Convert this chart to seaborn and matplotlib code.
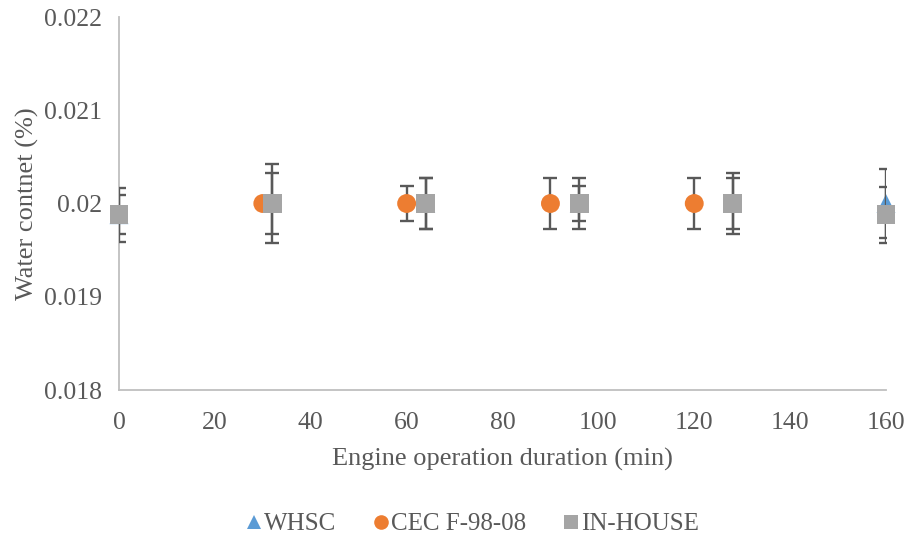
import matplotlib
matplotlib.use("Agg")
import matplotlib.pyplot as plt
import seaborn as sns
import pandas as pd
from matplotlib.lines import Line2D

# Measurements per test procedure
whsc_x = [0, 32, 64, 96, 128, 160]
whsc_y = [0.01988, 0.02, 0.02, 0.02, 0.02, 0.02]
whsc_err = [0.00021, 0.00033, 0.00027, 0.00019, 0.00027, 0.00037]

cec_x = [30, 60, 90, 120]
cec_y = [0.02, 0.02, 0.02, 0.02]
cec_err = [0.0, 0.00019, 0.00027, 0.00027]

inhouse_x = [0, 32, 64, 96, 128, 160]
inhouse_y = [0.01988, 0.02, 0.02, 0.02, 0.02, 0.01988]
inhouse_err = [0.00029, 0.00042, 0.00027, 0.00027, 0.00033, 0.00030]

series_names = ["WHSC", "CEC F-98-08", "IN-HOUSE"]
x_ticks = [0, 20, 40, 60, 80, 100, 120, 140, 160]
y_ticks = [0.018, 0.019, 0.02, 0.021, 0.022]
y_tick_labels = ["0.018", "0.019", "0.02", "0.021", "0.022"]

colors = {"WHSC": "#5B9BD5", "CEC F-98-08": "#ED7D31", "IN-HOUSE": "#A5A5A5"}
markers = {"WHSC": "^", "CEC F-98-08": "o", "IN-HOUSE": "s"}

frames = []
for name, xs, ys, es in [
    ("WHSC", whsc_x, whsc_y, whsc_err),
    ("CEC F-98-08", cec_x, cec_y, cec_err),
    ("IN-HOUSE", inhouse_x, inhouse_y, inhouse_err),
]:
    frames.append(pd.DataFrame({"time": xs, "water": ys, "err": es, "series": name}))
df = pd.concat(frames, ignore_index=True)

sns.set_style("white")
plt.rcParams["font.family"] = ["Liberation Serif", "DejaVu Serif"]
text_color = "#595959"

fig = plt.figure(figsize=(9.07, 5.40), dpi=100)
ax = fig.add_axes([119 / 907, 1 - 390 / 540, (886 - 119) / 907, (390 - 17) / 540])

# Error bars and markers, one series after another
for i, name in enumerate(series_names):
    sub = df[df["series"] == name]
    ax.errorbar(sub["time"], sub["water"], yerr=sub["err"], fmt="none",
                ecolor="#595959", elinewidth=1.7, capsize=5, capthick=1.7,
                zorder=2 + 2 * i)
    sns.scatterplot(data=sub, x="time", y="water", ax=ax,
                    color=colors[name], marker=markers[name],
                    s=185, edgecolor="none",
                    linewidth=0, zorder=3 + 2 * i, legend=False, clip_on=False)

ax.set_xlim(0, 160)
ax.set_ylim(0.018, 0.022)
ax.set_xticks(x_ticks)
ax.set_xticklabels([str(t) for t in x_ticks])
ax.set_yticks(y_ticks)
ax.set_yticklabels(y_tick_labels)
ax.tick_params(axis="both", length=0, labelsize=18.5, labelcolor=text_color)
ax.tick_params(axis="x", pad=16)
ax.tick_params(axis="y", pad=12)

for side in ["top", "right"]:
    ax.spines[side].set_visible(False)
for side in ["left", "bottom"]:
    ax.spines[side].set_color("#BFBFBF")
    ax.spines[side].set_linewidth(1.3)

ax.set_xlabel("Engine operation duration (min)", fontsize=19, color=text_color, labelpad=10)
ax.set_ylabel("Water contnet (%)", fontsize=19, color=text_color, labelpad=4)

handles = [
    Line2D([], [], linestyle="none", marker=markers[n], color=colors[n],
           markersize=10.5, markeredgewidth=0)
    for n in series_names
]
fig.legend(handles, series_names, loc="center", ncol=3,
           bbox_to_anchor=(470 / 907, 1 - 524 / 540), frameon=False,
           fontsize=18, labelcolor=text_color, handletextpad=-0.1,
           columnspacing=1.3, handlelength=1.0)

fig.savefig("out.png", dpi=100)
